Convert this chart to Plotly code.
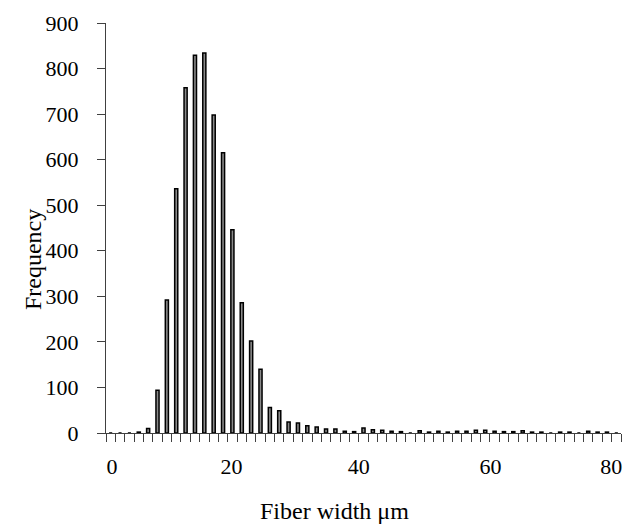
import plotly.graph_objects as go

# Histogram of fiber widths: one bar per bin (bin index along x)
bin_index = list(range(55))
frequency = [0, 0, 0, 2, 10, 94, 292, 536, 758, 829,
             834, 698, 615, 446, 286, 202, 140, 56, 49, 24,
             22, 16, 13, 9, 9, 4, 3, 11, 7, 6,
             4, 3, 0, 5, 2, 4, 2, 4, 4, 6,
             6, 4, 3, 3, 5, 2, 2, 0, 2, 2,
             0, 4, 2, 2, 0]

# Width labels shown under the axis and where they sit among the bins
width_label_pos = [0.14, 12.9, 26.5, 40.55, 53.47]
width_labels = ["0", "20", "40", "60", "80"]

y_ticks = [0, 100, 200, 300, 400, 500, 600, 700, 800, 900]

font_family = "Liberation Serif, Times New Roman, serif"

fig = go.Figure(
    go.Bar(
        x=bin_index,
        y=frequency,
        width=0.33,
        marker=dict(color="#8a8a8a", line=dict(color="black", width=1.5)),
    )
)

fig.update_layout(
    width=633,
    height=532,
    margin=dict(l=106, r=11, t=16, b=99),
    paper_bgcolor="white",
    plot_bgcolor="white",
    showlegend=False,
    font=dict(family=font_family, size=22, color="black"),
    annotations=[
        dict(text="Fiber width μm", xref="paper", yref="paper",
             x=(335 - 106) / 516, y=-(512 - 433) / 417,
             showarrow=False, xanchor="center", yanchor="middle",
             font=dict(size=24)),
        dict(text="Frequency", xref="paper", yref="paper",
             x=-(106 - 33) / 516, y=(433 - 257) / 417,
             showarrow=False, xanchor="center", yanchor="middle",
             textangle=-90, font=dict(size=24)),
    ],
)

fig.update_xaxes(
    range=[-0.5, 54.5],
    tickmode="array",
    tickvals=width_label_pos,
    ticktext=width_labels,
    ticks="",
    ticklabelstandoff=14,
    showgrid=False,
    zeroline=False,
    showline=True,
    linecolor="#404040",
    linewidth=1,
    minor=dict(
        tickmode="linear",
        tick0=-0.5,
        dtick=1,
        ticks="outside",
        ticklen=8,
        tickcolor="#404040",
        tickwidth=1,
        showgrid=False,
    ),
)

fig.update_yaxes(
    range=[0, 900],
    tickmode="array",
    tickvals=y_ticks,
    ticks="outside",
    ticklen=8,
    tickcolor="#404040",
    tickwidth=1,
    ticklabelstandoff=14,
    showgrid=False,
    zeroline=False,
    showline=True,
    linecolor="#404040",
    linewidth=1,
)

fig.write_html("out.html")
